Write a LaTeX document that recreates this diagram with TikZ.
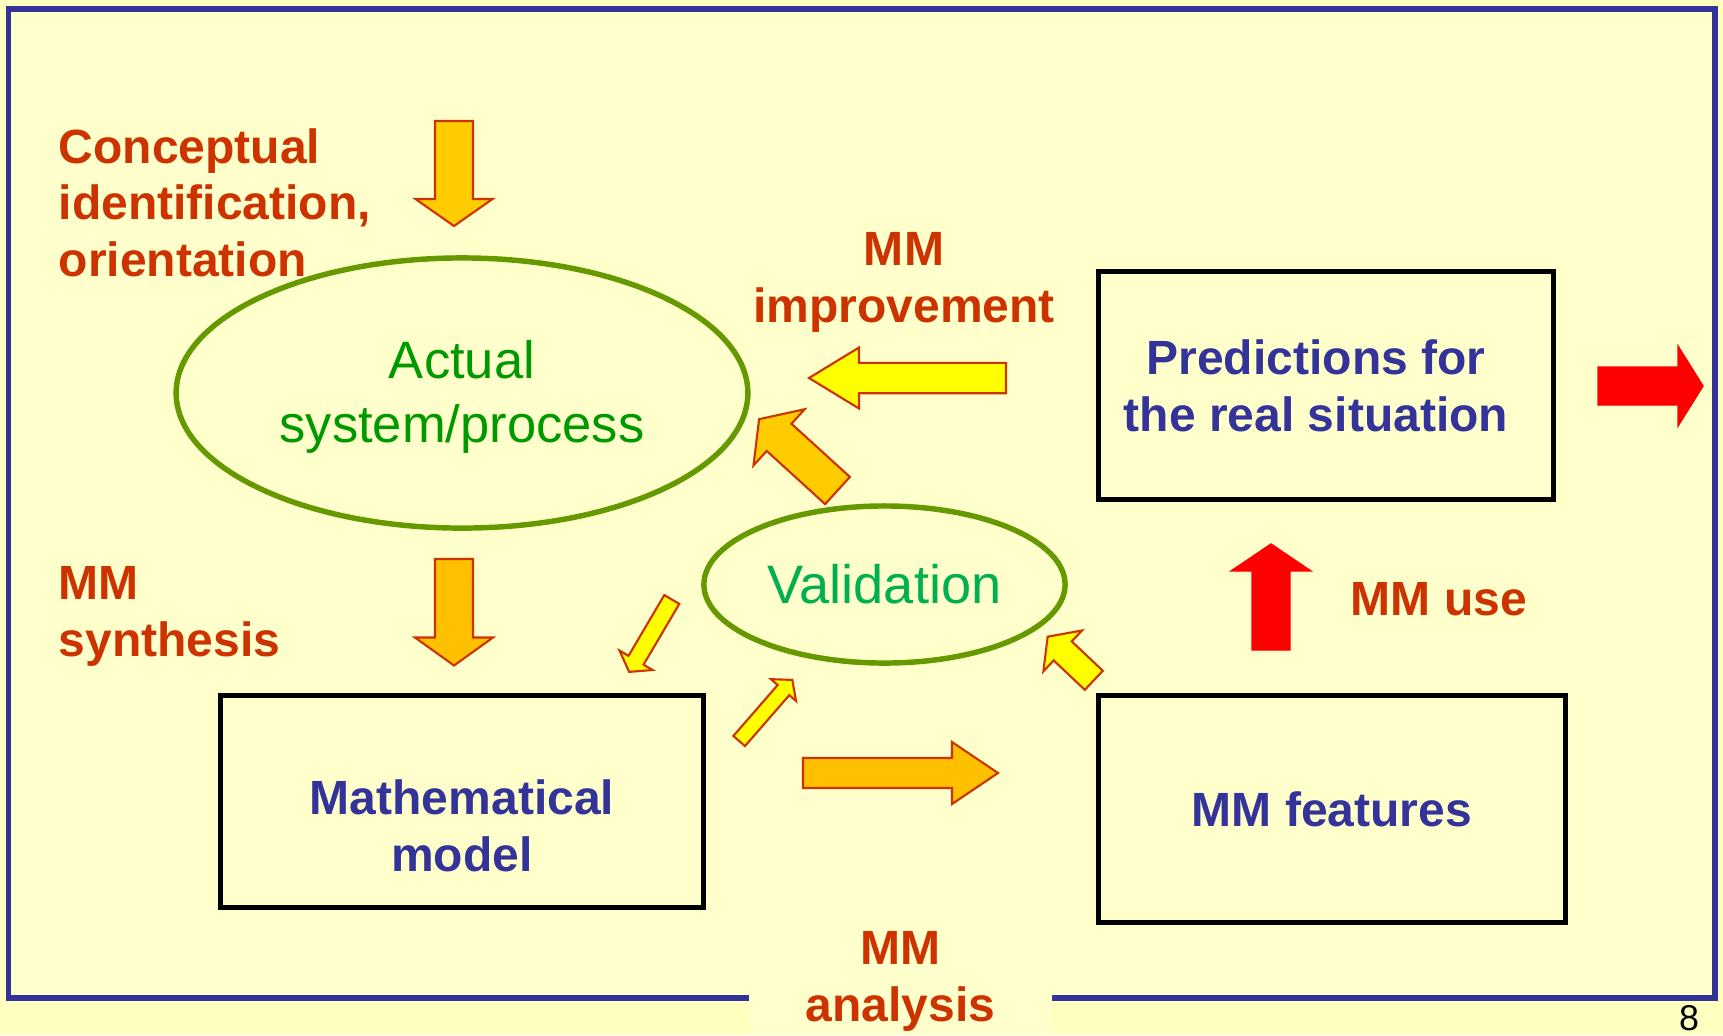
\documentclass[tikz,border=0pt]{standalone}
\usepackage{fontspec}
\setmainfont{Liberation Sans}
\usetikzlibrary{shapes.geometric}

\definecolor{paper}{HTML}{FFFFCC}
\definecolor{margin}{HTML}{FFFFC0}
\definecolor{frameblue}{HTML}{333399}
\definecolor{labelred}{HTML}{CC3300}
\definecolor{boxblue}{HTML}{333399}
\definecolor{ringgreen}{HTML}{669900}
\definecolor{actualgreen}{HTML}{009900}
\definecolor{validgreen}{HTML}{00B050}
\definecolor{arrowgold}{HTML}{FFCC00}
\definecolor{arrowamber}{HTML}{FFC000}
\definecolor{arrowlemon}{HTML}{FFFF00}
\definecolor{arrowedge}{HTML}{CC3300}

% block arrow: style, tail, angle, length, half shaft, half head, head length
\newcommand\fatarrow[7][]{%
  \filldraw[#1,shift={#2},rotate=#3] (0,{-#5}) -- ({#4-#7},{-#5}) -- ({#4-#7},{-#6})
    -- (#4,0) -- ({#4-#7},#6) -- ({#4-#7},#5) -- (0,#5) -- cycle;}

\begin{document}
\begin{tikzpicture}[x=0.01cm,y=-0.01cm,
	steplabel/.style={text=labelred,inner sep=0pt,font=\bfseries\fontsize{13.66pt}{16.2pt}\selectfont},
	stagebox/.style={draw=black,line width=1.45pt,inner sep=0pt,text=boxblue,align=center,font=\bfseries\fontsize{13.66pt}{16.2pt}\selectfont},
	boxtext/.style={inner sep=0pt,text=boxblue,align=center,font=\bfseries\fontsize{13.66pt}{16.2pt}\selectfont},
	stagering/.style={ellipse,draw=ringgreen,line width=1.55pt,inner sep=0pt,align=center,font=\fontsize{14.94pt}{18.3pt}\selectfont},
	goldarrow/.style={fill=arrowgold,draw=arrowedge,line width=0.6pt,line join=miter},
	amberarrow/.style={fill=arrowamber,draw=arrowedge,line width=0.6pt,line join=miter},
	lemonarrow/.style={fill=arrowlemon,draw=arrowedge,line width=0.6pt,line join=miter},
	redarrow/.style={fill=red,draw=red,line width=0.4pt,line join=miter}]
	\useasboundingbox (0,0) rectangle (1723,1035);
	\fill[margin] (0,0) rectangle (1723,1035);
	\filldraw[fill=paper,draw=frameblue,line width=1.7pt] (8.5,8.5) rectangle (1715,998);

	% stages
	\node[stagering,minimum width=5.714cm,minimum height=2.70cm] (actual) at (462,393) {};
	\node[inner sep=0pt,text=actualgreen,align=center,font=\fontsize{14.94pt}{18.3pt}\selectfont] (actualtxt) at ([yshift=-0.04cm]actual.center) {Actual\\system/process};
	\node[stagering,text=validgreen,minimum width=3.61cm,minimum height=1.57cm,font=\fontsize{15.4pt}{18pt}\selectfont] (valid) at (884.5,584.5) {Validation};
	\node[stagebox,minimum width=4.55cm,minimum height=2.28cm] (predict) at (1326,385.5) {};
	\node[boxtext] (predtxt) at ([xshift=-0.1cm]predict.center) {Predictions for\\the real situation};
	\node[stagebox,minimum width=4.83cm,minimum height=2.12cm] (mathbox) at (462,801.5) {};
	\node[boxtext] (mathtxt) at ([yshift=-0.24cm]mathbox.center) {Mathematical\\model};
	\node[stagebox,minimum width=4.67cm,minimum height=2.27cm] (features) at (1332,809) {MM features};

	% step labels
	\node[steplabel,anchor=north west,align=left] (concept) at (58,127.5) {Conceptual\\identification,\\orientation};
	\node[steplabel,anchor=north west,align=left] (synth) at (58,566) {MM\\synthesis};
	\node[steplabel,anchor=north,align=center] (improve) at (904,232) {MM\\improvement};
	\node[steplabel] (use) at (1439,599) {MM use};
	\node[steplabel,anchor=north,align=center,fill=paper,minimum width=3.03cm,inner ysep=0.03cm] (analysis) at (900.5,927.6) {MM\\analysis};
	\node[inner sep=0pt,font=\fontsize{10.2pt}{12pt}\selectfont] (pagenum) at (1689,1018) {8};

	% block arrows
	\fatarrow[goldarrow]{(454,121)}{-90}{105}{19}{38.5}{27}
	\fatarrow[amberarrow]{(454,559)}{-90}{106.5}{19}{39}{28}
	\fatarrow[amberarrow]{(803,773)}{0}{195}{15}{31}{46}
	\fatarrow[lemonarrow]{(1006,378)}{180}{197}{15.2}{30.5}{50}
	\fatarrow[goldarrow]{(837.5,490.5)}{137.7}{106}{18.4}{38}{27}
	\fatarrow[lemonarrow]{(671.8,599.5)}{239.5}{84}{8.7}{19.2}{13.5}
	\fatarrow[lemonarrow]{(739.2,741)}{49}{81}{7.7}{16.6}{13.5}
	\fatarrow[lemonarrow]{(1093.8,680.3)}{136.6}{63.5}{13.1}{28.1}{20.7}
	\fatarrow[redarrow]{(1271,650)}{90}{106}{19}{40}{27}
	\fatarrow[redarrow]{(1598,386)}{0}{105}{19}{40}{25}
\end{tikzpicture}
\end{document}
